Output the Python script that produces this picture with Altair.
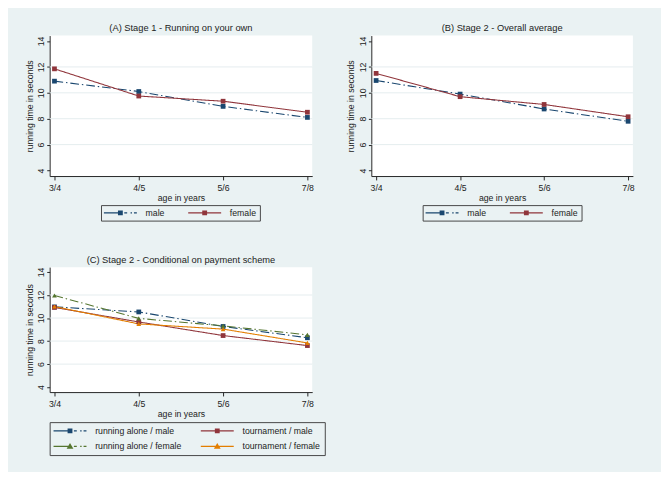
import altair as alt
import pandas as pd

# ---------------- data ----------------
ages = ["3/4", "4/5", "5/6", "7/8"]
y_ticks = [4, 6, 8, 10, 12, 14]
grid_vals = [6, 8, 10, 12]

series_ab = ["male", "female"]
a_male = [10.9, 10.1, 8.95, 8.1]
a_female = [11.85, 9.75, 9.35, 8.5]
b_male = [10.95, 9.9, 8.75, 7.8]
b_female = [11.5, 9.7, 9.1, 8.15]

series_c = ["running alone / male", "tournament / male",
            "running alone / female", "tournament / female"]
c_ra_male = [10.97, 10.53, 9.27, 8.29]
c_t_male = [10.92, 9.66, 8.48, 7.61]
c_ra_female = [11.96, 9.97, 9.32, 8.54]
c_t_female = [11.0, 9.49, 9.04, 7.84]

titles = ["(A) Stage 1 - Running on your own",
          "(B) Stage 2 - Overall average",
          "(C) Stage 2 - Conditional on payment scheme"]

# ---------------- styles ----------------
NAVY, MAROON, GREEN, ORANGE = "#1a476f", "#90353b", "#55752f", "#e37e00"
TXT = "#222222"
FONT = "Liberation Sans"
BG = "#eaf2f3"
DASHDOT = [9, 3, 1.5, 3]
SOLID = [1, 0]


def u(px):
    # legend symbol path units: symbol centre at 5px, scale 5px per unit
    return round((px - 5) / 5.0, 3)


def rect(x0, x1, h):
    return f"M{u(x0)},{-h/5:.3f}H{u(x1)}V{h/5:.3f}H{u(x0)}Z"


def legend_path(marker, dashed):
    parts = []
    if dashed:
        parts.append(rect(0, 17, 0.6))
        parts.append(rect(21, 24, 0.6))
        parts.append(rect(27.5, 29, 0.6))
        parts.append(rect(31, 34, 0.6))
    else:
        parts.append(rect(0, 34, 0.6))
    if marker == "square":
        parts.append(rect(14.5, 19.5, 2.5))
    else:
        parts.append(f"M{u(17)},-0.7L{u(20.5)},0.5L{u(13.5)},0.5Z")
    return " ".join(parts)


def frame(names, values):
    rows = []
    for s, vals in zip(names, values):
        for a, v in zip(ages, vals):
            rows.append({"series": s, "age": a, "time": v})
    return pd.DataFrame(rows)


def panel(df, names, colors, dashes, shapes, title, width, height,
          leg_x, leg_y, col_pad, leg_pad):
    yscale = alt.Scale(domain=[3.57, 14.42], nice=False, zero=False)
    yaxis = alt.Axis(values=y_ticks, title="running time in seconds",
                     labelAngle=-90, labelPadding=1, titlePadding=3,
                     tickSize=3, grid=False)
    x = alt.X("age:N", sort=ages,
              scale=alt.Scale(type="point", padding=0.057),
              axis=alt.Axis(title="age in years", labelAngle=0,
                            labelPadding=4, titlePadding=1, tickSize=4))
    y = alt.Y("time:Q", scale=yscale, axis=yaxis)
    cscale = alt.Scale(domain=names, range=colors)

    grid = alt.Chart(pd.DataFrame({"g": grid_vals})).mark_rule(
        color="#e4ecee", strokeWidth=1).encode(
        y=alt.Y("g:Q", scale=yscale, axis=yaxis))

    base = alt.Chart(df)
    lines = base.mark_line(strokeWidth=1.1).encode(
        x=x, y=y,
        color=alt.Color("series:N", scale=cscale, legend=None),
        strokeDash=alt.StrokeDash("series:N",
                                  scale=alt.Scale(domain=names, range=dashes),
                                  legend=None))
    points = base.mark_point(filled=True, size=24, opacity=1).encode(
        x=x, y=y,
        color=alt.Color("series:N", scale=cscale, legend=None),
        shape=alt.Shape("series:N",
                        scale=alt.Scale(domain=names, range=shapes),
                        legend=None))
    paths = [legend_path(s, d == DASHDOT) for s, d in zip(shapes, dashes)]
    leg = alt.Legend(title=None, orient="none", legendX=leg_x, legendY=leg_y,
                     direction="horizontal", columns=2,
                     symbolSize=100, symbolStrokeWidth=0, symbolOpacity=1,
                     labelOffset=33, labelFontSize=9, labelFont=FONT,
                     labelColor=TXT, strokeColor="#444444", padding=leg_pad,
                     columnPadding=col_pad, rowPadding=6, labelLimit=200)
    legend_layer = base.mark_point(filled=True, opacity=0).encode(
        x=x, y=y,
        color=alt.Color("series:N", scale=cscale, legend=leg),
        shape=alt.Shape("series:N",
                        scale=alt.Scale(domain=names, range=paths),
                        legend=leg))
    return alt.layer(grid, lines, points, legend_layer).resolve_scale(
        color="independent", shape="independent", strokeDash="independent"
    ).properties(
        width=width, height=height,
        title=alt.TitleParams(title, fontSize=9.6, font=FONT, color=TXT,
                              fontWeight="normal", offset=3, anchor="middle"))


df_a = frame(series_ab, [a_male, a_female])
df_b = frame(series_ab, [b_male, b_female])
df_c = frame(series_c, [c_ra_male, c_t_male, c_ra_female, c_t_female])

pa = panel(df_a, series_ab, [NAVY, MAROON], [DASHDOT, SOLID],
           ["square", "square"], titles[0], 271, 145, 53, 175, 24, 3)
pb = panel(df_b, series_ab, [NAVY, MAROON], [DASHDOT, SOLID],
           ["square", "square"], titles[1], 270, 145, 53, 175, 24, 3)
pc = panel(df_c, series_c, [NAVY, MAROON, GREEN, ORANGE],
           [DASHDOT, SOLID, DASHDOT, SOLID],
           ["square", "square", "triangle-up", "triangle-up"],
           titles[2], 271, 129, 0, 160, 19, 4)

chart = alt.vconcat(
    alt.hconcat(pa, pb, spacing=25),
    pc,
    spacing=34,
).properties(
    background=BG,
    padding={"left": 17, "top": 8, "right": 18, "bottom": 9},
).configure_view(
    fill="white", stroke=None
).configure_axis(
    domainColor=TXT, tickColor=TXT, domainWidth=1, tickWidth=1,
    labelFont=FONT, titleFont=FONT, labelFontSize=9, titleFontSize=9,
    labelColor=TXT, titleColor=TXT, titleFontWeight="normal"
)

chart.save("out.html", embed_options={"renderer": "svg", "actions": False})
